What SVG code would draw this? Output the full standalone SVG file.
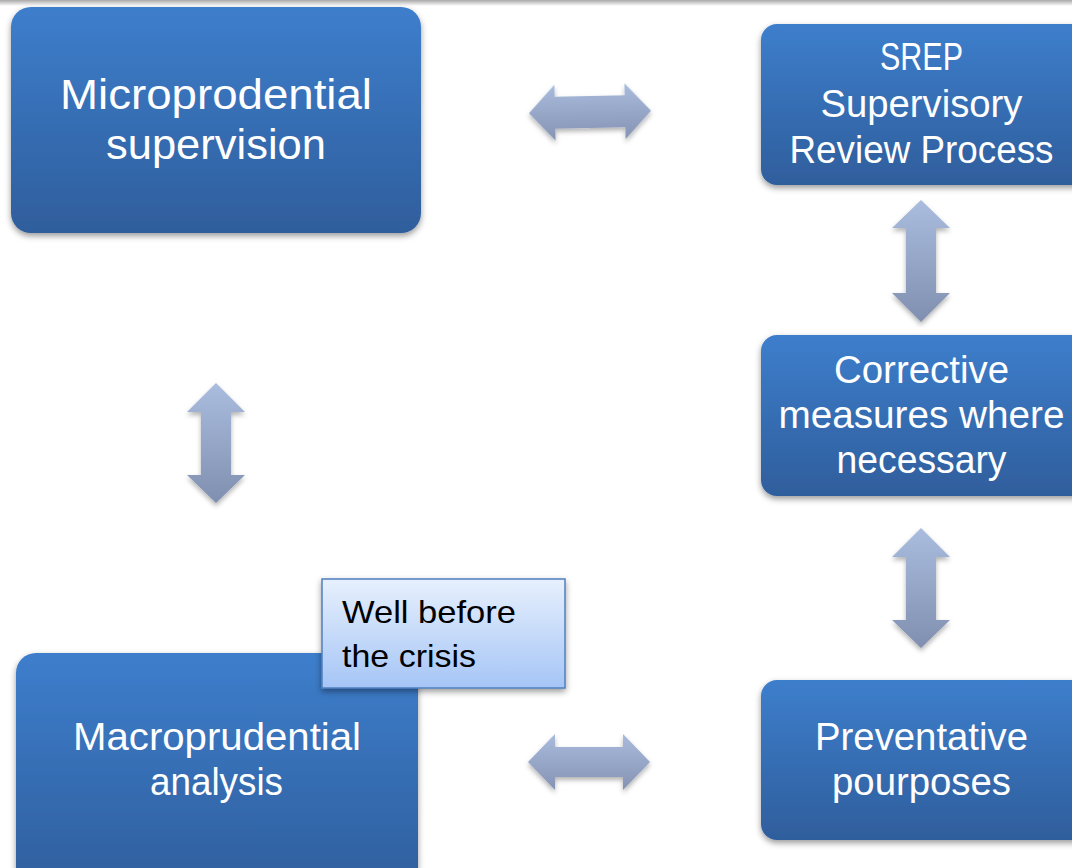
<svg xmlns="http://www.w3.org/2000/svg" width="1072" height="868" viewBox="0 0 1072 868">
  <defs>
    <linearGradient id="boxFill" x1="0" y1="0" x2="0" y2="1">
      <stop offset="0" stop-color="#3d7ecc"/>
      <stop offset="1" stop-color="#2f5e9c"/>
    </linearGradient>
    <linearGradient id="noteFill" x1="0" y1="0" x2="0" y2="1">
      <stop offset="0" stop-color="#e7f0fd"/>
      <stop offset="1" stop-color="#a5c5f6"/>
    </linearGradient>
    <linearGradient id="arrowV" x1="0" y1="0" x2="0" y2="1">
      <stop offset="0" stop-color="#aabddf"/>
      <stop offset="1" stop-color="#808faf"/>
    </linearGradient>
    <linearGradient id="arrowH" x1="0" y1="0" x2="0" y2="1">
      <stop offset="0" stop-color="#a9bbdd"/>
      <stop offset="1" stop-color="#8593b3"/>
    </linearGradient>
    <linearGradient id="topBand" x1="0" y1="0" x2="0" y2="1">
      <stop offset="0" stop-color="#a8a8a8"/>
      <stop offset="0.5" stop-color="#d4d4d4"/>
      <stop offset="1" stop-color="#ffffff"/>
    </linearGradient>
    <filter id="shadow" x="-10%" y="-10%" width="120%" height="130%">
      <feDropShadow dx="0" dy="3" stdDeviation="3" flood-color="#000" flood-opacity="0.4"/>
    </filter>
    <filter id="arrowShadow" x="-20%" y="-20%" width="140%" height="140%">
      <feDropShadow dx="0" dy="3" stdDeviation="2.5" flood-color="#000" flood-opacity="0.3"/>
    </filter>
  </defs>
  <style>
    .box { fill: url(#boxFill); filter: url(#shadow); }
    .label { font-family: "Liberation Sans", Arial, sans-serif; fill: #ffffff; text-anchor: middle; }
    .note { fill: url(#noteFill); stroke: #4f7fbf; stroke-width: 1.5; filter: url(#shadow); }
    .noteText { font-family: "Liberation Sans", Arial, sans-serif; fill: #000000; font-size: 32px; }
    .arrV { fill: url(#arrowV); filter: url(#arrowShadow); }
    .arrH { fill: url(#arrowH); filter: url(#arrowShadow); }
  </style>

  <rect x="0" y="0" width="1072" height="868" fill="#ffffff"/>
  <rect x="0" y="0" width="1072" height="6" fill="url(#topBand)"/>

  <!-- double-headed block arrows -->
  <g id="connectors">
    <path class="arrH" transform="rotate(-1.2 590 112)" d="M529,112 L555,84 L555,96 L625,96 L625,84 L651,112 L625,140 L625,128 L555,128 L555,140 Z"/>
    <path class="arrH" d="M528,762 L555,734 L555,747 L623,747 L623,734 L650,762 L623,790 L623,777 L555,777 L555,790 Z"/>
    <path class="arrV" d="M921,200 L950,228 L936,228 L936,293 L950,293 L921,322 L892,293 L906,293 L906,228 L892,228 Z"/>
    <path class="arrV" d="M921,528 L950,557 L936,557 L936,620 L950,620 L921,648 L892,620 L906,620 L906,557 L892,557 Z"/>
    <path class="arrV" d="M216,383 L245,412 L231,412 L231,475 L245,475 L216,503 L187,475 L201,475 L201,412 L187,412 Z"/>
  </g>

  <g id="micro">
    <rect class="box" x="11" y="7" width="410" height="226" rx="20"/>
    <text class="label" font-size="42" x="216" y="109" textLength="312" lengthAdjust="spacingAndGlyphs">Microprodential</text>
    <text class="label" font-size="42" x="216" y="159" textLength="220" lengthAdjust="spacingAndGlyphs">supervision</text>
  </g>

  <g id="srep">
    <rect class="box" x="761" y="24" width="330" height="161" rx="16"/>
    <text class="label" font-size="38" x="921.5" y="70" textLength="83" lengthAdjust="spacingAndGlyphs">SREP</text>
    <text class="label" font-size="38" x="921.5" y="117" textLength="202" lengthAdjust="spacingAndGlyphs">Supervisory</text>
    <text class="label" font-size="38" x="921.5" y="163" textLength="264" lengthAdjust="spacingAndGlyphs">Review Process</text>
  </g>

  <g id="corrective">
    <rect class="box" x="761" y="335" width="330" height="161" rx="16"/>
    <text class="label" font-size="38" x="921.5" y="383" textLength="175" lengthAdjust="spacingAndGlyphs">Corrective</text>
    <text class="label" font-size="38" x="921.5" y="428" textLength="286" lengthAdjust="spacingAndGlyphs">measures where</text>
    <text class="label" font-size="38" x="921.5" y="473" textLength="170" lengthAdjust="spacingAndGlyphs">necessary</text>
  </g>

  <g id="preventative">
    <rect class="box" x="761" y="680" width="330" height="160" rx="16"/>
    <text class="label" font-size="38" x="921.5" y="750" textLength="213" lengthAdjust="spacingAndGlyphs">Preventative</text>
    <text class="label" font-size="38" x="921.5" y="795" textLength="179" lengthAdjust="spacingAndGlyphs">pourposes</text>
  </g>

  <g id="macro">
    <rect class="box" x="16" y="653" width="402" height="240" rx="20"/>
    <text class="label" font-size="38" x="217" y="750" textLength="288" lengthAdjust="spacingAndGlyphs">Macroprudential</text>
    <text class="label" font-size="38" x="216.5" y="795" textLength="133" lengthAdjust="spacingAndGlyphs">analysis</text>
  </g>

  <g id="note">
    <rect class="note" x="322" y="579" width="243" height="109"/>
    <text class="noteText" x="342" y="623" textLength="174" lengthAdjust="spacingAndGlyphs">Well before</text>
    <text class="noteText" x="342" y="667" textLength="134" lengthAdjust="spacingAndGlyphs">the crisis</text>
  </g>
</svg>
